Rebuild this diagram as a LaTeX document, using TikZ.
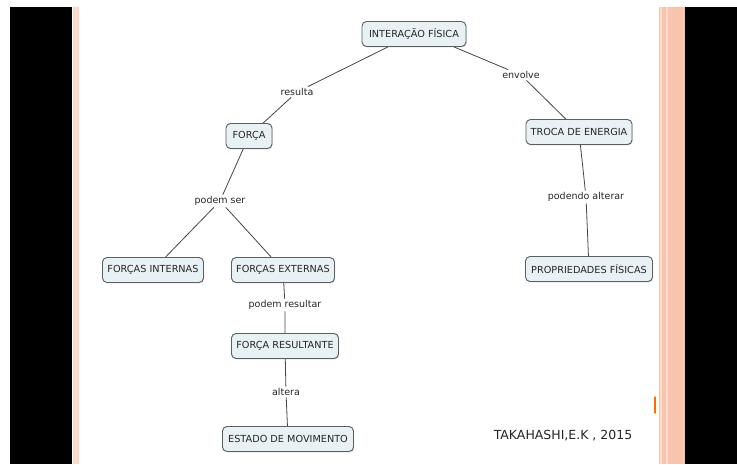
\documentclass[tikz,border=0pt]{standalone}
\usepackage{fontspec}
\setmainfont{DejaVu Sans}
\usetikzlibrary{shadows}
\definecolor{boxfill}{HTML}{E8F1F4}
\definecolor{boxline}{HTML}{5A5F62}
\definecolor{linkgray}{HTML}{454545}
\definecolor{edgesalmon}{HTML}{F8C4AE}
\definecolor{edgelight}{HTML}{FBDCCD}
\tikzset{
  concept/.style={draw=boxline, line width=0.9pt, fill=boxfill, rounded corners=4.5pt,
    minimum height=25pt, inner xsep=4pt, font=\fontsize{9.7}{11}\selectfont,
    text=black!85, drop shadow={shadow xshift=0.7pt, shadow yshift=-0.9pt, opacity=0.3}},
  linkword/.style={inner sep=1.5pt, font=\fontsize{9.5}{11}\selectfont, text=black!85},
  link/.style={draw=linkgray, line width=0.8pt}
}
\begin{document}
\begin{tikzpicture}[x=1pt, y=-1pt]
  \useasboundingbox (0,0) rectangle (737,464);
  % screen frame
  \fill[white] (0,0) rectangle (737,464);
  \fill[black] (10,7) rectangle (72,464);
  \fill[black] (685,7) rectangle (737,464);
  \fill[edgesalmon!70] (73,7) rectangle (79,464);
  \fill[edgelight] (75,7) rectangle (77,464);
  \fill[edgesalmon] (659,7) rectangle (685,464);
  \fill[edgelight] (660,7) rectangle (662,464);
  \fill[edgelight] (666,7) rectangle (667.5,464);
  \draw[orange!85!red, line width=1.5pt, line cap=round] (655,397) -- (655,413);

  % concepts
  \node[concept, minimum width=104pt] (ia) at (414,34) {INTERAÇÃO FÍSICA};
  \node[concept, minimum width=46pt]  (fo) at (249,136) {FORÇA};
  \node[concept, minimum width=106pt] (te) at (579,132) {TROCA DE ENERGIA};
  \node[concept, minimum width=101pt] (fi) at (153,270) {FORÇAS INTERNAS};
  \node[concept, minimum width=103pt] (fe) at (283,270) {FORÇAS EXTERNAS};
  \node[concept, minimum width=107pt] (fr) at (285,346) {FORÇA RESULTANTE};
  \node[concept, minimum width=131pt] (em) at (288,439) {ESTADO DE MOVIMENTO};
  \node[concept, minimum width=127pt] (pf) at (589,269) {PROPRIEDADES FÍSICAS};

  % linking words
  \node[linkword] (lres) at (297,92) {resulta};
  \node[linkword] (lenv) at (521,75) {envolve};
  \node[linkword] (lps)  at (220,201) {podem ser};
  \node[linkword] (lpr)  at (285,305) {podem resultar};
  \node[linkword] (lalt) at (286,392) {altera};
  \node[linkword] (lpa)  at (586,197) {podendo alterar};

  % connectors
  \draw[link] (ia) -- (lres) -- (fo);
  \draw[link] ([xshift=40pt]ia.south) -- (lenv) -- (te);
  \draw[link] (fo) -- (lps);
  \draw[link] (lps) -- (fi);
  \draw[link] (lps) -- (fe);
  \draw[link] (fe) -- (lpr) -- (fr);
  \draw[link] (fr) -- (lalt) -- (em);
  \draw[link] (te) -- (lpa) -- (pf);

  % credit
  \node[font=\fontsize{12.5}{14}\selectfont, text=black!85] (cr) at (563,436) {TAKAHASHI,E.K , 2015};
\end{tikzpicture}
\end{document}
